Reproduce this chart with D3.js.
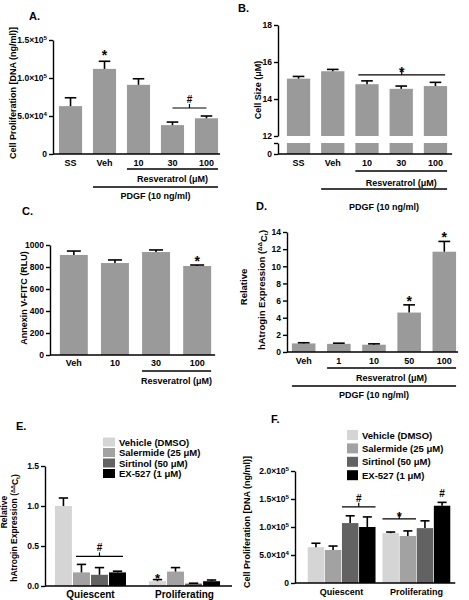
<!DOCTYPE html>
<html><head><meta charset="utf-8">
<script src="https://cdn.jsdelivr.net/npm/d3@7"></script>
<style>
body{margin:0;background:#fff}
svg text{font-family:"Liberation Sans",Arial,Helvetica,sans-serif;font-weight:bold;fill:#000}
</style>
</head><body>
<svg id="c" width="469" height="600"></svg>
<script>
// ---------- DATA ----------
const catsA = ["SS","Veh","10","30","100"];
const valsA = [63000,112000,91000,38000,47000];
const errA  = [11000,10000,8000,4000,3000];
const ticksA = [0,50000,100000,150000];

const catsB = ["SS","Veh","10","30","100"];
const valsB = [15.1,15.5,14.8,14.55,14.7];
const errB  = [0.12,0.1,0.18,0.15,0.2];
const ticksB = [12,14,16,18];

const catsC = ["Veh","10","30","100"];
const valsC = [909,836,936,809];
const errC  = [36,28,19,9];
const ticksC = [0,200,400,600,800,1000];

const catsD = ["Veh","1","10","50","100"];
const valsD = [1.0,0.95,0.85,4.6,11.7];
const errD  = [0.08,0.08,0.1,0.9,1.2];
const ticksD = [0,2,4,6,8,10,12,14];

const groupsEF = ["Quiescent","Proliferating"];
const seriesEF = ["Vehicle (DMSO)","Salermide (25 \u03bcM)","Sirtinol (50 \u03bcM)","EX-527 (1 \u03bcM)"];
const valsE = [[1.0,0.06],[0.17,0.18],[0.14,0.03],[0.17,0.06]];
const errE  = [[0.10,0.02],[0.10,0.05],[0.09,0.005],[0.015,0.015]];
const ticksE = [0,0.5,1.0,1.5];

const valsF = [[64000,89000],[59000,84000],[107000,98000],[100000,138000]];
const errF  = [[7000,2000],[7000,9000],[13000,13000],[18000,6000]];
const ticksF = [0,50000,100000,150000,200000];

// ---------- HELPERS ----------
const svg = d3.select("#c");
const BAR = "#9a9a9a";
const seriesColors = ["#d5d5d5","#a2a2a2","#626262","#000000"];
const SW = 1.4;

function sciLabel(sel, v){
  sel.text(null);
  if (v === 0) { sel.text("0"); return; }
  const e = Math.floor(Math.log10(v) + 1e-9);
  const m = (v / Math.pow(10, e)).toFixed(1);
  sel.append("tspan").text(m + "\u00d710");
  sel.append("tspan").attr("dy","-0.45em").attr("font-size","0.72em").text(e);
}
function yAxis(g, y, x0, ticks, fmt, fs){
  const a = g.append("g").attr("transform",`translate(${x0},0)`)
    .call(d3.axisLeft(y).tickValues(ticks).tickSizeOuter(0).tickSizeInner(4).tickPadding(2));
  a.attr("font-family",null).attr("font-size",null);
  a.select(".domain").attr("stroke","#000").attr("stroke-width",SW);
  a.selectAll(".tick line").attr("stroke","#000").attr("stroke-width",SW);
  a.selectAll(".tick text").attr("font-size",fs).attr("fill","#000").each(function(d){ fmt(d3.select(this), d); });
  return a;
}
function hline(g, x1, x2, yv, w){
  g.append("line").attr("x1",x1).attr("x2",x2).attr("y1",yv).attr("y2",yv)
    .attr("stroke","#000").attr("stroke-width",w||SW);
}
function txt(g, x, yv, s, fs, anchor){
  return g.append("text").attr("x",x).attr("y",yv).attr("font-size",fs)
    .attr("text-anchor",anchor||"middle").text(s);
}
function errBar(g, cx, yTop, yErr, capW){
  g.append("line").attr("x1",cx).attr("x2",cx).attr("y1",yTop).attr("y2",yErr).attr("stroke","#000").attr("stroke-width",1.6);
  g.append("line").attr("x1",cx-capW/2).attr("x2",cx+capW/2).attr("y1",yErr).attr("y2",yErr).attr("stroke","#000").attr("stroke-width",1.6);
}
function bracket(g, x1, x2, yv, sym, fs){
  hline(g, x1, x2, yv, 1.2);
  const cx = (x1+x2)/2;
  g.append("line").attr("x1",cx).attr("x2",cx).attr("y1",yv).attr("y2",yv-4).attr("stroke","#000").attr("stroke-width",1.2);
  txt(g, cx, yv-5 + (sym==="*"?7:0), sym, fs);
}
function yTitle(g, x, yc, s, fs){
  g.append("text").attr("transform",`translate(${x},${yc}) rotate(-90)`)
   .attr("text-anchor","middle").attr("font-size",fs).text(s);
}
function yTitleAtrogin(g, x1, x2, yc1, yc2, fs){
  g.append("text").attr("transform",`translate(${x1},${yc1}) rotate(-90)`)
   .attr("text-anchor","middle").attr("font-size",fs).text("Relative");
  const t = g.append("text").attr("transform",`translate(${x2},${yc2}) rotate(-90)`)
   .attr("text-anchor","middle").attr("font-size",fs);
  t.append("tspan").text("hAtrogin Expression (");
  t.append("tspan").attr("dy","-0.45em").attr("font-size","0.65em").text("\u0394\u0394");
  t.append("tspan").attr("dy","0.45em").text("C");
  t.append("tspan").attr("dy","0.25em").attr("font-size","0.65em").text("t");
  t.append("tspan").attr("dy","-0.25em").text(")");
}
function simpleBars(g, x, y, cats, vals, errs, capFrac){
  cats.forEach((c,i)=>{
    g.append("rect").attr("x",x(c)).attr("width",x.bandwidth())
      .attr("y",y(vals[i])).attr("height",y(y.domain()[0])-y(vals[i])).attr("fill",BAR);
    errBar(g, x(c)+x.bandwidth()/2, y(vals[i]), y(vals[i]+errs[i]), x.bandwidth()*capFrac);
  });
}
function catLabels(g, x, cats, yv, fs){
  cats.forEach(c=>txt(g, x(c)+x.bandwidth()/2, yv, c, fs));
}
function spanLine(g, x, c1, c2, yv){
  hline(g, x(c1), x(c2)+x.bandwidth(), yv, 1.6);
}

// ---------- PANEL A ----------
{
  const g = svg.append("g");
  const x = d3.scaleBand().domain(catsA).range([53,224]).paddingInner(0.32).paddingOuter(0.176);
  const y = d3.scaleLinear().domain([0,150000]).range([154,40]);
  simpleBars(g, x, y, catsA, valsA, errA, 0.5);
  yAxis(g, y, 53, ticksA, sciLabel, 8.5);
  hline(g, 53, x("100")+x.bandwidth()+2, y(0));
  catLabels(g, x, catsA, 166, 9);
  spanLine(g, x, "10", "100", 169);
  txt(g, (x("10")+x("100")+x.bandwidth())/2, 182, "Resveratrol (\u03bcM)", 9);
  spanLine(g, x, "Veh", "100", 187);
  txt(g, (x("Veh")+x("100")+x.bandwidth())/2, 199, "PDGF (10 ng/ml)", 9);
  txt(g, x("Veh")+x.bandwidth()/2, y(valsA[1]+errA[1])-1, "*", 14);
  const top = y(Math.max(valsA[3]+errA[3], valsA[4]+errA[4])) - 8;
  bracket(g, x("30")+x.bandwidth()/2, x("100")+x.bandwidth()/2, top, "#", 10);
  yTitle(g, 16, 93, "Cell Proliferation [DNA (ng/ml)]", 9);
  txt(g, 29, 20, "A.", 11, "start");
}

// ---------- PANEL B ----------
{
  const g = svg.append("g");
  const x = d3.scaleBand().domain(catsB).range([278,456]).paddingInner(0.32).paddingOuter(0.26);
  const yU = d3.scaleLinear().domain([12,18]).range([136,25]);
  const yL = d3.scaleLinear().domain([0,1]).range([154,143]);
  catsB.forEach((c,i)=>{
    g.append("rect").attr("x",x(c)).attr("width",x.bandwidth())
      .attr("y",yU(valsB[i])).attr("height",yU(12)-yU(valsB[i])).attr("fill",BAR);
    g.append("rect").attr("x",x(c)).attr("width",x.bandwidth())
      .attr("y",yL(1)).attr("height",yL(0)-yL(1)).attr("fill",BAR);
    errBar(g, x(c)+x.bandwidth()/2, yU(valsB[i]), yU(valsB[i]+errB[i]), x.bandwidth()*0.5);
  });
  yAxis(g, yU, 278, ticksB, (s,d)=>s.text(d), 8.5);
  yAxis(g, yL, 278, [0,1], (s,d)=>s.text(d===0?"0":""), 8.5);
  hline(g, 278, x("100")+x.bandwidth()+5, yL(0));
  catLabels(g, x, catsB, 166, 9);
  spanLine(g, x, "10", "100", 171);
  txt(g, (x("10")+x("100")+x.bandwidth())/2, 186, "Resveratrol (\u03bcM)", 9);
  spanLine(g, x, "Veh", "100", 189);
  txt(g, (x("Veh")+x("100")+x.bandwidth())/2, 210, "PDGF (10 ng/ml)", 9);
  const top = yU(d3.max([2,3,4].map(i=>valsB[i]+errB[i]))) - 6;
  bracket(g, x("10")+3, x("100")+x.bandwidth()-2, top, "*", 14);
  yTitle(g, 261, 90, "Cell Size (\u03bcM)", 9);
  txt(g, 238, 12, "B.", 11, "start");
}

// ---------- PANEL C ----------
{
  const g = svg.append("g");
  const x = d3.scaleBand().domain(catsC).range([50,221]).paddingInner(0.32).paddingOuter(0.24);
  const y = d3.scaleLinear().domain([0,1000]).range([355,245]);
  simpleBars(g, x, y, catsC, valsC, errC, 0.5);
  yAxis(g, y, 50, ticksC, (s,d)=>s.text(d), 8.5);
  hline(g, 50, x("100")+x.bandwidth()+4, y(0));
  catLabels(g, x, catsC, 366, 9);
  spanLine(g, x, "30", "100", 371);
  txt(g, (x("30")+x("100")+x.bandwidth())/2, 384, "Resveratrol (\u03bcM)", 9);
  txt(g, x("100")+x.bandwidth()/2, y(valsC[3]+errC[3])+1, "*", 14);
  yTitle(g, 27, 298, "Annexin V-FITC (RLU)", 9);
  txt(g, 22, 215, "C.", 11, "start");
}

// ---------- PANEL D ----------
{
  const g = svg.append("g");
  const x = d3.scaleBand().domain(catsD).range([287,461]).paddingInner(0.33).paddingOuter(0.14);
  const y = d3.scaleLinear().domain([0,14]).range([352,232]);
  simpleBars(g, x, y, catsD, valsD, errD, 0.5);
  yAxis(g, y, 287, ticksD, (s,d)=>s.text(d), 8.5);
  hline(g, 287, x("100")+x.bandwidth()+2, y(0));
  catLabels(g, x, catsD, 364, 9);
  spanLine(g, x, "1", "100", 368);
  txt(g, (x("1")+x("100")+x.bandwidth())/2, 381, "Resveratrol (\u03bcM)", 9);
  spanLine(g, x, "Veh", "100", 386);
  txt(g, (x("Veh")+x("100")+x.bandwidth())/2, 398, "PDGF (10 ng/ml)", 9);
  txt(g, x("50")+x.bandwidth()/2, y(valsD[3]+errD[3])+1, "*", 14);
  txt(g, x("100")+x.bandwidth()/2, y(valsD[4]+errD[4])+1, "*", 14);
  yTitleAtrogin(g, 247, 265, 287, 290, 9.5);
  txt(g, 256, 210, "D.", 11, "start");
}

// ---------- PANEL E & F ----------
function groupedPanel(opt){
  const g = svg.append("g");
  const x0 = d3.scaleBand().domain(groupsEF).range(opt.xr).paddingInner(opt.pi).paddingOuter(opt.po);
  const x1 = d3.scaleBand().domain(seriesEF).range([0,x0.bandwidth()]).paddingInner(opt.si);
  const y = d3.scaleLinear().domain(opt.dom).range(opt.yr);
  seriesEF.forEach((s,si)=>{
    groupsEF.forEach((gr,gi)=>{
      const v = opt.vals[si][gi], e = opt.errs[si][gi];
      const bx = x0(gr)+x1(s);
      g.append("rect").attr("x",bx).attr("width",x1.bandwidth()).attr("y",y(v))
        .attr("height",y(0)-y(v)).attr("fill",seriesColors[si]);
      errBar(g, bx+x1.bandwidth()/2, y(v), y(v+e), x1.bandwidth()*0.55);
    });
  });
  yAxis(g, y, opt.xr[0], opt.ticks, opt.fmt, 8.5);
  const lastRight = x0("Proliferating")+x0.bandwidth();
  hline(g, opt.xr[0], lastRight+opt.axPad, y(0));
  groupsEF.forEach(gr=>txt(g, x0(gr)+x0.bandwidth()/2, opt.labY, gr, opt.labFs));
  seriesEF.forEach((s,i)=>{
    const ly = opt.leg.y0 + i*opt.leg.dy;
    g.append("rect").attr("x",opt.leg.x).attr("y",ly-opt.leg.h/2).attr("width",opt.leg.w).attr("height",opt.leg.h).attr("fill",seriesColors[i]);
    txt(g, opt.leg.x+opt.leg.w+4, ly+3.5, s, 9.5, "start");
  });
  return {g,x0,x1,y};
}
{
  const P = groupedPanel({xr:[45,230], pi:0.245, po:0.106, si:0.06, dom:[0,1.5], yr:[586,466],
    vals:valsE, errs:errE, ticks:ticksE, fmt:(s,d)=>s.text(d.toFixed(1)), axPad:12, labY:598, labFs:10,
    leg:{x:103,y0:442,dy:10.5,w:12,h:9}});
  const {g,x0,x1,y} = P;
  const q = "Quiescent";
  const top = y(d3.max([1,2,3].map(i=>valsE[i][0]+errE[i][0]))) - 8;
  bracket(g, x0(q)+x1(seriesEF[1])+3, x0(q)+x1(seriesEF[3])+x1.bandwidth()-3, top, "#", 10);
  txt(g, x0("Proliferating")+x1(seriesEF[0])+x1.bandwidth()/2, y(valsE[0][1]+errE[0][1])+3, "*", 13);
  yTitleAtrogin(g, 7, 17, 512, 528, 8.5);
  txt(g, 16, 430, "E.", 11, "start");
}
{
  const P = groupedPanel({xr:[295,463], pi:0.093, po:0.17, si:0.04, dom:[0,200000], yr:[583,471],
    vals:valsF, errs:errF, ticks:ticksF, fmt:sciLabel, axPad:5, labY:595, labFs:9,
    leg:{x:347,y0:435,dy:13.4,w:11,h:10}});
  const {g,x0,x1,y} = P;
  const q = "Quiescent", p = "Proliferating";
  let top = y(d3.max([2,3].map(i=>valsF[i][0]+errF[i][0]))) - 9;
  bracket(g, x0(q)+x1(seriesEF[2]), x0(q)+x1(seriesEF[3])+x1.bandwidth(), top, "#", 10);
  top = y(d3.max([0,1].map(i=>valsF[i][1]+errF[i][1]))) - 12;
  bracket(g, x0(p)+x1(seriesEF[0]), x0(p)+x1(seriesEF[1])+x1.bandwidth(), top, "*", 13);
  txt(g, x0(p)+x1(seriesEF[3])+x1.bandwidth()/2, y(valsF[3][1]+errF[3][1])-5, "#", 10);
  yTitle(g, 250, 522, "Cell Proliferation [DNA (ng/ml)]", 9);
  txt(g, 271, 423, "F.", 11, "start");
}
</script>
</body></html>
